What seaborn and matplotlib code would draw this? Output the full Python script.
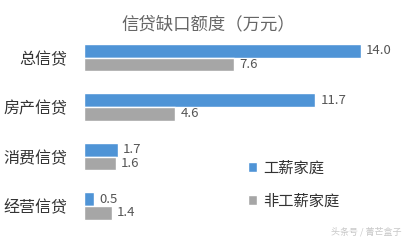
import matplotlib
matplotlib.use("Agg")
import matplotlib.pyplot as plt
import seaborn as sns
import pandas as pd

categories = ["总信贷", "房产信贷", "消费信贷", "经营信贷"]
series_names = ["工薪家庭", "非工薪家庭"]
wage = [14.0, 11.7, 1.7, 0.5]
non_wage = [7.6, 4.6, 1.6, 1.4]
title = "信贷缺口额度（万元）"
watermark = "头条号 / 菁芒盒子"

df = pd.DataFrame({
    "cat": categories * 2,
    "series": [series_names[0]] * 4 + [series_names[1]] * 4,
    "value": wage + non_wage,
})

sns.set_theme(style="white")
plt.rcParams["font.family"] = ["Noto Sans CJK SC", "DejaVu Sans"]

fig = plt.figure(figsize=(4.08, 2.4), dpi=100)
ax = fig.add_axes([0.2059, 0.0385, 0.7745, 0.825])

palette = {series_names[0]: "#4f94d6", series_names[1]: "#a6a6a6"}
sns.barplot(data=df, x="value", y="cat", hue="series", orient="h",
            palette=palette, width=0.56, order=categories,
            hue_order=series_names, ax=ax, saturation=1, errorbar=None)

ax.set_xlim(0, 16)
ax.set_ylim(3.5, -0.5)
for c in ax.containers:
    ax.bar_label(c, fmt="%.1f", padding=4, fontsize=9.5, color="#555555")

ax.set_xlabel("")
ax.set_ylabel("")
ax.set_xticks([])
ax.tick_params(axis="y", length=0, pad=12, labelsize=11.5, labelcolor="#333333")
for s in ax.spines.values():
    s.set_visible(False)

handles, labels = ax.get_legend_handles_labels()
ax.legend(handles, labels, loc="upper left", bbox_to_anchor=(0.475, 0.43),
          frameon=False, handlelength=0.6, handleheight=0.6, handletextpad=0.4,
          labelspacing=1.05, fontsize=11, labelcolor="#333333")

fig.text(0.51, 0.9, title, ha="center", va="center", fontsize=12.5, color="#666666")
fig.text(0.985, 0.035, watermark, ha="right", va="center", fontsize=6.5, color="#c8c8c8")

fig.savefig("out.png", dpi=100, facecolor="white")
